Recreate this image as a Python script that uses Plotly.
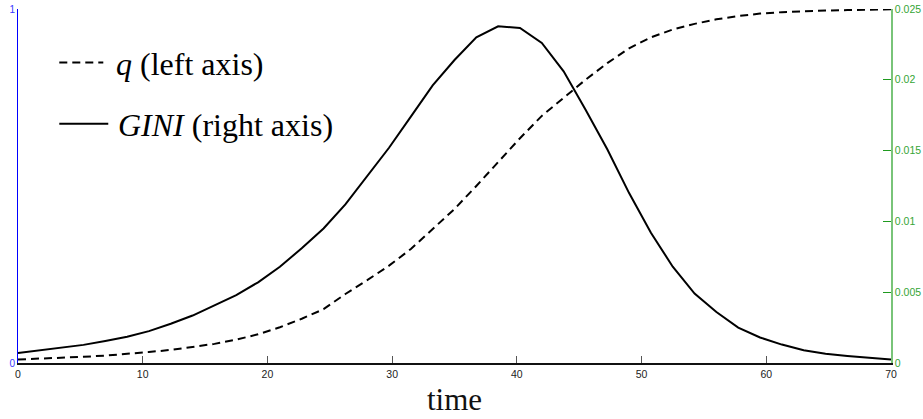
import plotly.graph_objects as go

time = [0, 1.75, 3.5, 5.25, 7, 8.75, 10.5, 12.25, 14, 15.75, 17.5, 19.25, 21, 22.75,
        24.5, 26.25, 28, 29.75, 31.5, 33.25, 35, 36.75, 38.5, 40.25, 42, 43.75, 45.5,
        47.25, 49, 50.75, 52.5, 54.25, 56, 57.75, 59.5, 61.25, 63, 64.75, 66.5, 68.25, 70]

# q (left axis)
q = [0.010, 0.012, 0.0145, 0.0175, 0.021, 0.025, 0.031, 0.037, 0.045, 0.054, 0.066,
     0.081, 0.101, 0.125, 0.152, 0.195, 0.234, 0.275, 0.322, 0.378, 0.435, 0.500,
     0.569, 0.635, 0.698, 0.750, 0.800, 0.847, 0.889, 0.920, 0.942, 0.958, 0.971,
     0.980, 0.987, 0.991, 0.994, 0.9955, 0.997, 0.998, 0.999]

# GINI (right axis)
gini = [0.0007, 0.00088, 0.00105, 0.00128, 0.00155, 0.00185, 0.00225, 0.00277, 0.00335,
        0.00405, 0.0048, 0.0057, 0.0068, 0.0081, 0.0095, 0.0112, 0.0132, 0.0152, 0.0174,
        0.0196, 0.0214, 0.0230, 0.02378, 0.02366, 0.0226, 0.0206, 0.0179, 0.0151, 0.0120,
        0.0092, 0.0068, 0.0049, 0.0036, 0.0025, 0.0018, 0.0013, 0.0009, 0.00066, 0.0005,
        0.00035, 0.00024]

x_ticks = [0, 10, 20, 30, 40, 50, 60, 70]
left_ticks = [0, 1]
right_ticks = [0, 0.005, 0.01, 0.015, 0.02, 0.025]
right_ticktext = ["0", "0.005", "0.01", "0.015", "0.02", "0.025"]

legend_q = "<i>q</i> (left axis)"
legend_gini = "<i>GINI</i> (right axis)"
x_title = "time"

fig = go.Figure()
fig.add_trace(go.Scatter(x=time, y=q, mode="lines", yaxis="y",
                         line=dict(color="black", width=2, dash="8px,5px"),
                         showlegend=False, hoverinfo="skip", cliponaxis=False))
fig.add_trace(go.Scatter(x=time, y=gini, mode="lines", yaxis="y2",
                         line=dict(color="black", width=2),
                         showlegend=False, hoverinfo="skip", cliponaxis=False))

serif = "Liberation Serif"
sans = "Liberation Sans"

fig.update_layout(
    width=923, height=419,
    margin=dict(l=18, r=32, t=9, b=56, autoexpand=False),
    paper_bgcolor="white", plot_bgcolor="white",
    xaxis=dict(range=[0, 70], tickvals=x_ticks, ticks="inside", ticklen=7,
               tickcolor="#555555", tickwidth=1, showline=True, linecolor="#111111",
               linewidth=2, showgrid=False, zeroline=False, automargin=False,
               tickfont=dict(family=sans, size=10.5, color="#222222"),
               title=dict(text=x_title, font=dict(family=serif, size=31, color="#111111"),
                          standoff=10)),
    yaxis=dict(range=[0, 1], tickvals=left_ticks, ticks="inside", ticklen=8,
               tickcolor="#0000ff", showline=True, linecolor="#0000ff", linewidth=1,
               showgrid=False, zeroline=False, automargin=False,
               tickfont=dict(family=sans, size=10, color="#3a3aff")),
    yaxis2=dict(range=[0, 0.025], tickvals=right_ticks, ticktext=right_ticktext,
                overlaying="y", side="right", ticks="inside", ticklen=8,
                tickcolor="#1f9a1f", showline=True, linecolor="#79c479", linewidth=1.5,
                showgrid=False, zeroline=False, automargin=False,
                tickfont=dict(family=sans, size=10.5, color="#35a535")),
)

# manual legend
fig.add_shape(type="line", xref="paper", yref="paper", x0=0.0473, x1=0.0977,
              y0=0.849, y1=0.849, line=dict(color="black", width=2, dash="8px,5px"))
fig.add_shape(type="line", xref="paper", yref="paper", x0=0.0473, x1=0.1034,
              y0=0.676, y1=0.676, line=dict(color="black", width=2))
fig.add_annotation(xref="paper", yref="paper", x=0.110, y=0.845, text=legend_q,
                   showarrow=False, xanchor="left", yanchor="middle",
                   font=dict(family=serif, size=32, color="black"))
fig.add_annotation(xref="paper", yref="paper", x=0.112, y=0.672, text=legend_gini,
                   showarrow=False, xanchor="left", yanchor="middle",
                   font=dict(family=serif, size=32, color="black"))

fig.write_html("out.html",
               config={"displayModeBar": False},
               post_script="document.body.style.margin='0';document.body.style.padding='0';")
